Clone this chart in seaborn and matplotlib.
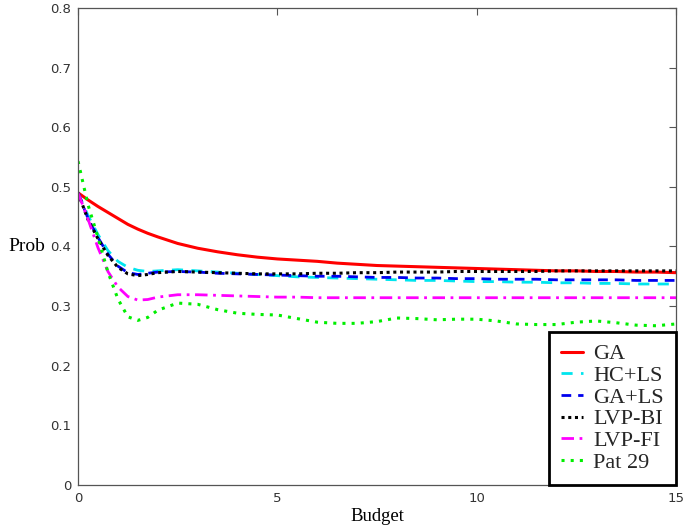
import matplotlib
matplotlib.use("Agg")
import matplotlib.pyplot as plt
import seaborn as sns
import pandas as pd

budget = [0, 0.25, 0.5, 0.75, 1.0, 1.25, 1.5, 1.75, 2.0, 2.5, 3.0, 3.5, 4.0, 4.5, 5.0,
          5.5, 6.0, 6.5, 7.0, 7.5, 8.0, 8.5, 9.0, 9.5, 10.0, 10.5, 11.0, 11.5, 12.0,
          12.5, 13.0, 13.5, 14.0, 14.5, 15.0]

ga = [0.490, 0.478, 0.467, 0.457, 0.447, 0.437, 0.429, 0.422, 0.416, 0.405, 0.397, 0.391,
      0.386, 0.382, 0.379, 0.377, 0.375, 0.372, 0.370, 0.368, 0.367, 0.366, 0.365, 0.364,
      0.363, 0.362, 0.361, 0.360, 0.359, 0.359, 0.358, 0.358, 0.357, 0.357, 0.356]
hc_ls = [0.490, 0.452, 0.420, 0.393, 0.375, 0.365, 0.360, 0.358, 0.359, 0.361, 0.359, 0.357,
         0.355, 0.353, 0.351, 0.349, 0.348, 0.347, 0.346, 0.345, 0.344, 0.343, 0.343, 0.342,
         0.341, 0.341, 0.340, 0.340, 0.339, 0.339, 0.338, 0.338, 0.337, 0.337, 0.337]
ga_ls = [0.490, 0.447, 0.415, 0.387, 0.367, 0.356, 0.353, 0.355, 0.357, 0.358, 0.357, 0.355,
         0.354, 0.353, 0.352, 0.351, 0.350, 0.350, 0.349, 0.348, 0.348, 0.347, 0.347, 0.346,
         0.346, 0.345, 0.345, 0.345, 0.344, 0.344, 0.344, 0.344, 0.343, 0.343, 0.343]
lvp_bi = [0.490, 0.445, 0.413, 0.385, 0.365, 0.354, 0.351, 0.353, 0.356, 0.358, 0.357, 0.356,
          0.355, 0.354, 0.354, 0.354, 0.355, 0.355, 0.356, 0.356, 0.357, 0.357, 0.357, 0.358,
          0.358, 0.358, 0.358, 0.358, 0.359, 0.359, 0.359, 0.359, 0.359, 0.359, 0.359]
lvp_fi = [0.490, 0.446, 0.398, 0.358, 0.332, 0.316, 0.310, 0.311, 0.315, 0.319, 0.319, 0.318,
          0.317, 0.316, 0.315, 0.315, 0.314, 0.314, 0.314, 0.314, 0.314, 0.314, 0.314, 0.314,
          0.314, 0.314, 0.314, 0.314, 0.314, 0.314, 0.314, 0.314, 0.314, 0.314, 0.314]
pat29 = [0.543, 0.470, 0.415, 0.357, 0.312, 0.282, 0.276, 0.281, 0.293, 0.305, 0.303, 0.294,
         0.288, 0.286, 0.285, 0.279, 0.273, 0.271, 0.271, 0.274, 0.280, 0.279, 0.277, 0.278,
         0.278, 0.275, 0.270, 0.269, 0.269, 0.273, 0.275, 0.272, 0.268, 0.267, 0.270]

series_names = ["GA", "HC+LS", "GA+LS", "LVP-BI", "LVP-FI", "Pat 29"]
series_values = [ga, hc_ls, ga_ls, lvp_bi, lvp_fi, pat29]

sns.set_style("white")
plt.rcParams['font.family'] = ['DejaVu Sans']

fig = plt.figure(figsize=(6.85, 5.26), dpi=100)
ax = fig.add_axes([0.1139, 0.078, 0.8730, 0.907])

styles = {
    "GA": dict(color="#ff0000", linestyle="-", linewidth=2.2),
    "HC+LS": dict(color="#00e5ee", linestyle=(0, (4, 3)), linewidth=2.0),
    "GA+LS": dict(color="#0000ee", linestyle=(0, (3.5, 2.5)), linewidth=2.0),
    "LVP-BI": dict(color="#000000", linestyle=(0, (1, 1.2)), linewidth=2.2),
    "LVP-FI": dict(color="#ff00ff", linestyle=(0, (4.5, 2, 1, 2)), linewidth=2.0),
    "Pat 29": dict(color="#00ee00", linestyle=(0, (1, 2)), linewidth=2.2),
}

for name, vals in zip(series_names, series_values):
    df = pd.DataFrame({"Budget": budget, "Prob": vals})
    sns.lineplot(data=df, x="Budget", y="Prob", ax=ax, label=name, **styles[name])

ax.set_xlim(0, 15)
ax.set_ylim(0, 0.8)
ax.set_xticks([0, 5, 10, 15])
ax.set_yticks([0, 0.1, 0.2, 0.3, 0.4, 0.5, 0.6, 0.7, 0.8])
ax.set_yticklabels(["0", "0.1", "0.2", "0.3", "0.4", "0.5", "0.6", "0.7", "0.8"])
ax.tick_params(direction="in", length=5, width=0.8, colors="#555555",
               labelcolor="#333333", labelsize=9.5, top=True, right=True, pad=5)
for sp in ax.spines.values():
    sp.set_color("#555555")
    sp.set_linewidth(0.9)

ax.set_xlabel("Budget", family=["Liberation Serif"], fontsize=13.5, color="black", labelpad=2)
ax.set_ylabel("Prob", family=["Liberation Serif"], fontsize=14, color="black",
              rotation=0, ha="center", va="center")
ax.yaxis.set_label_coords(-0.085, 0.5)

leg = ax.legend(loc="lower right", bbox_to_anchor=(1.0, 0.0), borderaxespad=0,
                prop={"family": "Liberation Serif", "size": 16},
                handlelength=1.0, handletextpad=0.45, labelspacing=0.05,
                borderpad=0.55, frameon=True, fancybox=False, framealpha=1)
leg.get_frame().set_edgecolor("black")
leg.get_frame().set_linewidth(2.0)

fig.savefig("out.png", dpi=100)
